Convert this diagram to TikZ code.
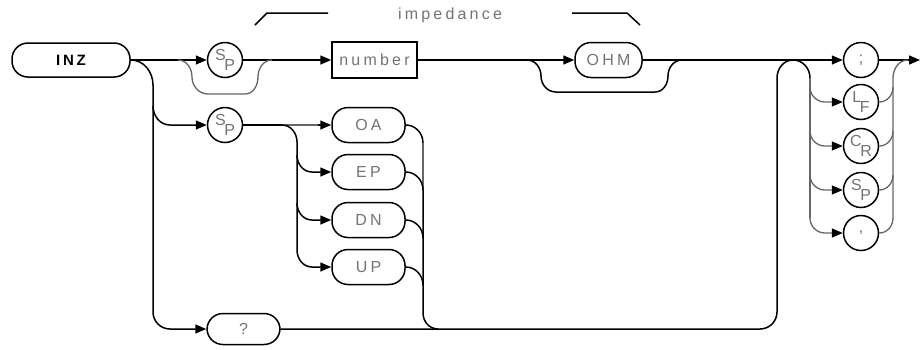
\documentclass[tikz,border=0pt]{standalone}
\usepackage{fontspec}
\setmainfont{Liberation Sans}
\newfontfamily\hpfont[LetterSpace=20]{Liberation Sans}
\newfontfamily\hpbold[LetterSpace=18]{Liberation Sans}
\usetikzlibrary{arrows.meta}
\newcommand{\twoch}[2]{\raisebox{4pt}{#1}\hspace{-1.5pt}\raisebox{-6pt}{#2}}
\tikzset{
  ln/.style={line width=1.5pt},
  dl/.style={line width=1.3pt, black!60},
  arr/.style={-{Triangle[length=11pt,width=9pt,color=black]}},
  kw/.style={draw, line width=1.5pt, rounded corners=16pt, minimum width=73pt,
    minimum height=35pt, inner sep=0pt, text=black!55,
    font=\hpfont\fontsize{16}{16}\selectfont},
  boxnode/.style={draw, line width=1.5pt, minimum width=85pt, minimum height=36pt,
    inner sep=0pt, text=black!55, font=\hpfont\fontsize{16}{16}\selectfont},
  circ/.style={draw=black, circle, line width=1.5pt, minimum size=35pt, inner sep=0pt,
    text=black!55, font=\fontsize{16}{16}\selectfont},
  lbl/.style={inner sep=0pt, text=black!55, font=\hpfont\fontsize{16}{16}\selectfont},
}
\begin{document}
\begin{tikzpicture}[x=1pt,y=-1pt]
\useasboundingbox (0,0) rectangle (920,349);
% nodes
\node[kw, minimum width=118pt, minimum height=34pt, text=black,
      font=\hpbold\bfseries\fontsize{15}{15}\selectfont] (inz) at (71,60) {INZ};
\node[circ] (sp1) at (225,60) {\twoch{S}{P}};
\node[boxnode] (num) at (374.5,60) {number};
\node[kw, minimum width=67pt] (ohm) at (608.5,60) {OHM};
\node[circ] (semi) at (861,60) {;};
\node[circ] (lf) at (861,102) {\twoch{L}{F}};
\node[circ] (cr) at (861,146) {\twoch{C}{R}};
\node[circ] (sp3) at (861,190) {\twoch{S}{P}};
\node[circ] (comma) at (861,233) {,};
\node[circ] (sp2) at (225,125) {\twoch{S}{P}};
\node[kw] (oa) at (368.5,125) {OA};
\node[kw] (ep) at (368.5,172) {EP};
\node[kw] (dn) at (368.5,220) {DN};
\node[kw] (up) at (368.5,267) {UP};
\node[kw, minimum height=31pt] (q) at (243.5,329) {?};
\node[lbl] (imp) at (450,15) {impedance};
\coordinate (end) at (920,60);
% impedance brackets
\draw[ln] (255,25) -- (267,13) -- (328,13);
\draw[ln] (572,13) -- (627,13) -- (640,25);
% main line
\draw[ln,arr] (inz.east) -- (sp1.west);
\draw[ln,arr] (sp1.east) -- (num.west);
\draw[ln,arr] (num.east) -- (ohm.west);
\draw[ln,arr] (ohm.east) -- (semi.west);
\draw[ln,arr] (semi.east) -- (end);
% bypass of SP1
\draw[dl] (178,60) to[out=0,in=90] (192,77) to[out=-90,in=180] (208,94) -- (245,94)
  to[out=0,in=-90] (258,77) to[out=90,in=180] (272,60);
% bypass of OHM
\draw[ln] (527,60) to[out=0,in=90] (541,76) to[out=-90,in=180] (556,92) -- (655,92)
  to[out=0,in=-90] (668,76) to[out=90,in=180] (682,60);
% left fork
\draw[ln,arr] (inz.east) to[out=0,in=90] (153,85) -- (153,312) to[out=-90,in=180] (170,329) -- (q.west);
\draw[ln,arr] (153,106) to[out=-90,in=180] (170,125) -- (sp2.west);
% SP2 to options
\draw[ln] (sp2.east) -- (282,125);
\draw[dl] (282,125) -- (318,125);
\draw[ln,arr] (318,125) -- (oa.west);
\draw[ln] (282,125) to[out=0,in=90] (297,142) -- (297,250);
\draw[ln,arr] (297,155) to[out=-90,in=180] (312,172) -- (ep.west);
\draw[ln,arr] (297,203) to[out=-90,in=180] (312,220) -- (dn.west);
\draw[ln,arr] (297,250) to[out=-90,in=180] (312,267) -- (up.west);
% merge of options
\draw[ln] (oa.east) to[out=0,in=90] (423,143);
\draw[dl] (423,143) -- (423,190);
\draw[ln] (423,190) -- (423,313) to[out=-90,in=180] (438,329);
\draw[ln] (ep.east) to[out=0,in=90] (423,190);
\draw[ln] (dn.east) to[out=0,in=90] (423,238);
\draw[ln] (up.east) to[out=0,in=90] (423,285);
% bottom return
\draw[ln] (q.east) -- (760,329) to[out=0,in=-90] (777,312) -- (777,78)
  to[out=90,in=180] (793,60) to[out=0,in=90] (810,78);
% terminator group
\draw[dl] (810,78) -- (810,218);
\draw[dl,arr] (810,87) to[out=-90,in=180] (825,102) -- (lf.west);
\draw[dl,arr] (810,131) to[out=-90,in=180] (825,146) -- (cr.west);
\draw[dl,arr] (810,175) to[out=-90,in=180] (825,190) -- (sp3.west);
\draw[dl,arr] (810,218) to[out=-90,in=180] (825,233) -- (comma.west);
\draw[dl] (lf.east) to[out=0,in=-90] (893,87);
\draw[dl] (cr.east) to[out=0,in=-90] (893,131);
\draw[dl] (sp3.east) to[out=0,in=-90] (893,175);
\draw[dl] (comma.east) to[out=0,in=-90] (893,218);
\draw[dl] (893,218) -- (893,78) to[out=90,in=180] (908,60);
\end{tikzpicture}
\end{document}
